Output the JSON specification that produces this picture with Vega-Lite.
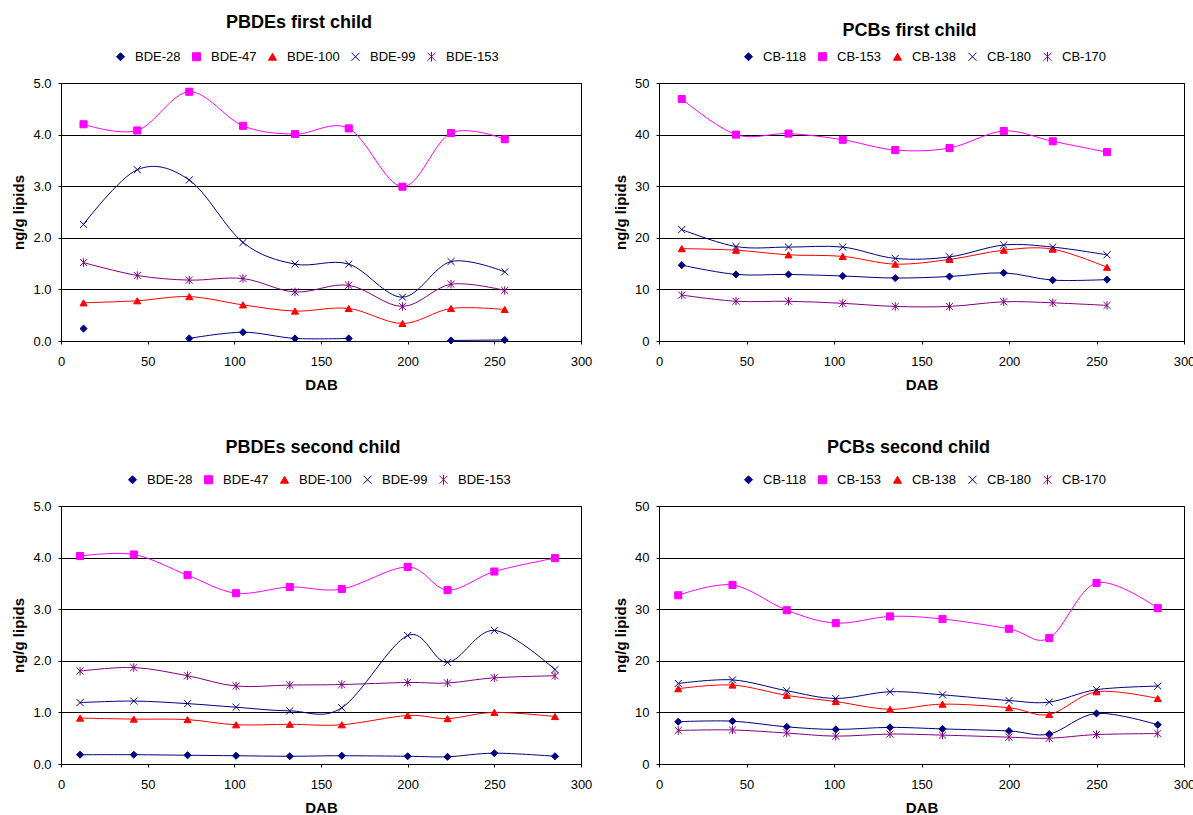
{
  "$schema": "https://vega.github.io/schema/vega-lite/v6.json",
  "background": "white",
  "padding": {"left": 11, "top": 13, "right": 5, "bottom": 0},
  "columns": 2,
  "spacing": {"row": 45, "column": 20},
  "resolve": {
    "scale": {"color": "independent", "fill": "independent", "stroke": "independent", "shape": "independent", "x": "independent", "y": "independent"},
    "legend": {"color": "independent", "fill": "independent", "stroke": "independent", "shape": "independent"}
  },
  "datasets": {
    "pbde1": [
      {"DAB": 13, "congener": "BDE-28", "value": 0.24}, {"DAB": 44, "congener": "BDE-28", "value": null}, {"DAB": 74, "congener": "BDE-28", "value": 0.05}, {"DAB": 105, "congener": "BDE-28", "value": 0.17}, {"DAB": 135, "congener": "BDE-28", "value": 0.05}, {"DAB": 166, "congener": "BDE-28", "value": 0.05}, {"DAB": 197, "congener": "BDE-28", "value": null}, {"DAB": 225, "congener": "BDE-28", "value": 0.01}, {"DAB": 256, "congener": "BDE-28", "value": 0.02},
      {"DAB": 13, "congener": "BDE-47", "value": 4.2}, {"DAB": 44, "congener": "BDE-47", "value": 4.08}, {"DAB": 74, "congener": "BDE-47", "value": 4.83}, {"DAB": 105, "congener": "BDE-47", "value": 4.17}, {"DAB": 135, "congener": "BDE-47", "value": 4.01}, {"DAB": 166, "congener": "BDE-47", "value": 4.12}, {"DAB": 197, "congener": "BDE-47", "value": 2.99}, {"DAB": 225, "congener": "BDE-47", "value": 4.03}, {"DAB": 256, "congener": "BDE-47", "value": 3.91},
      {"DAB": 13, "congener": "BDE-100", "value": 0.74}, {"DAB": 44, "congener": "BDE-100", "value": 0.78}, {"DAB": 74, "congener": "BDE-100", "value": 0.86}, {"DAB": 105, "congener": "BDE-100", "value": 0.7}, {"DAB": 135, "congener": "BDE-100", "value": 0.58}, {"DAB": 166, "congener": "BDE-100", "value": 0.63}, {"DAB": 197, "congener": "BDE-100", "value": 0.34}, {"DAB": 225, "congener": "BDE-100", "value": 0.63}, {"DAB": 256, "congener": "BDE-100", "value": 0.61},
      {"DAB": 13, "congener": "BDE-99", "value": 2.26}, {"DAB": 44, "congener": "BDE-99", "value": 3.32}, {"DAB": 74, "congener": "BDE-99", "value": 3.12}, {"DAB": 105, "congener": "BDE-99", "value": 1.91}, {"DAB": 135, "congener": "BDE-99", "value": 1.49}, {"DAB": 166, "congener": "BDE-99", "value": 1.49}, {"DAB": 197, "congener": "BDE-99", "value": 0.85}, {"DAB": 225, "congener": "BDE-99", "value": 1.54}, {"DAB": 256, "congener": "BDE-99", "value": 1.34},
      {"DAB": 13, "congener": "BDE-153", "value": 1.52}, {"DAB": 44, "congener": "BDE-153", "value": 1.27}, {"DAB": 74, "congener": "BDE-153", "value": 1.18}, {"DAB": 105, "congener": "BDE-153", "value": 1.21}, {"DAB": 135, "congener": "BDE-153", "value": 0.95}, {"DAB": 166, "congener": "BDE-153", "value": 1.08}, {"DAB": 197, "congener": "BDE-153", "value": 0.67}, {"DAB": 225, "congener": "BDE-153", "value": 1.1}, {"DAB": 256, "congener": "BDE-153", "value": 0.98}
    ],
    "pcb1": [
      {"DAB": 13, "congener": "CB-118", "value": 14.7}, {"DAB": 44, "congener": "CB-118", "value": 12.9}, {"DAB": 74, "congener": "CB-118", "value": 12.9}, {"DAB": 105, "congener": "CB-118", "value": 12.6}, {"DAB": 135, "congener": "CB-118", "value": 12.2}, {"DAB": 166, "congener": "CB-118", "value": 12.5}, {"DAB": 197, "congener": "CB-118", "value": 13.2}, {"DAB": 225, "congener": "CB-118", "value": 11.8}, {"DAB": 256, "congener": "CB-118", "value": 11.9},
      {"DAB": 13, "congener": "CB-153", "value": 46.9}, {"DAB": 44, "congener": "CB-153", "value": 40.0}, {"DAB": 74, "congener": "CB-153", "value": 40.2}, {"DAB": 105, "congener": "CB-153", "value": 39.0}, {"DAB": 135, "congener": "CB-153", "value": 37.0}, {"DAB": 166, "congener": "CB-153", "value": 37.4}, {"DAB": 197, "congener": "CB-153", "value": 40.7}, {"DAB": 225, "congener": "CB-153", "value": 38.7}, {"DAB": 256, "congener": "CB-153", "value": 36.6},
      {"DAB": 13, "congener": "CB-138", "value": 17.9}, {"DAB": 44, "congener": "CB-138", "value": 17.6}, {"DAB": 74, "congener": "CB-138", "value": 16.7}, {"DAB": 105, "congener": "CB-138", "value": 16.4}, {"DAB": 135, "congener": "CB-138", "value": 14.9}, {"DAB": 166, "congener": "CB-138", "value": 15.8}, {"DAB": 197, "congener": "CB-138", "value": 17.6}, {"DAB": 225, "congener": "CB-138", "value": 17.8}, {"DAB": 256, "congener": "CB-138", "value": 14.3},
      {"DAB": 13, "congener": "CB-180", "value": 21.6}, {"DAB": 44, "congener": "CB-180", "value": 18.3}, {"DAB": 74, "congener": "CB-180", "value": 18.2}, {"DAB": 105, "congener": "CB-180", "value": 18.2}, {"DAB": 135, "congener": "CB-180", "value": 16.0}, {"DAB": 166, "congener": "CB-180", "value": 16.3}, {"DAB": 197, "congener": "CB-180", "value": 18.6}, {"DAB": 225, "congener": "CB-180", "value": 18.2}, {"DAB": 256, "congener": "CB-180", "value": 16.7},
      {"DAB": 13, "congener": "CB-170", "value": 8.9}, {"DAB": 44, "congener": "CB-170", "value": 7.7}, {"DAB": 74, "congener": "CB-170", "value": 7.7}, {"DAB": 105, "congener": "CB-170", "value": 7.3}, {"DAB": 135, "congener": "CB-170", "value": 6.7}, {"DAB": 166, "congener": "CB-170", "value": 6.7}, {"DAB": 197, "congener": "CB-170", "value": 7.6}, {"DAB": 225, "congener": "CB-170", "value": 7.4}, {"DAB": 256, "congener": "CB-170", "value": 6.9}
    ],
    "pbde2": [
      {"DAB": 11, "congener": "BDE-28", "value": 0.18}, {"DAB": 42, "congener": "BDE-28", "value": 0.18}, {"DAB": 73, "congener": "BDE-28", "value": 0.17}, {"DAB": 101, "congener": "BDE-28", "value": 0.16}, {"DAB": 132, "congener": "BDE-28", "value": 0.15}, {"DAB": 162, "congener": "BDE-28", "value": 0.16}, {"DAB": 200, "congener": "BDE-28", "value": 0.15}, {"DAB": 223, "congener": "BDE-28", "value": 0.14}, {"DAB": 250, "congener": "BDE-28", "value": 0.21}, {"DAB": 285, "congener": "BDE-28", "value": 0.15},
      {"DAB": 11, "congener": "BDE-47", "value": 4.03}, {"DAB": 42, "congener": "BDE-47", "value": 4.06}, {"DAB": 73, "congener": "BDE-47", "value": 3.66}, {"DAB": 101, "congener": "BDE-47", "value": 3.31}, {"DAB": 132, "congener": "BDE-47", "value": 3.43}, {"DAB": 162, "congener": "BDE-47", "value": 3.39}, {"DAB": 200, "congener": "BDE-47", "value": 3.82}, {"DAB": 223, "congener": "BDE-47", "value": 3.37}, {"DAB": 250, "congener": "BDE-47", "value": 3.73}, {"DAB": 285, "congener": "BDE-47", "value": 3.99},
      {"DAB": 11, "congener": "BDE-100", "value": 0.89}, {"DAB": 42, "congener": "BDE-100", "value": 0.87}, {"DAB": 73, "congener": "BDE-100", "value": 0.86}, {"DAB": 101, "congener": "BDE-100", "value": 0.76}, {"DAB": 132, "congener": "BDE-100", "value": 0.77}, {"DAB": 162, "congener": "BDE-100", "value": 0.76}, {"DAB": 200, "congener": "BDE-100", "value": 0.94}, {"DAB": 223, "congener": "BDE-100", "value": 0.88}, {"DAB": 250, "congener": "BDE-100", "value": 1.0}, {"DAB": 285, "congener": "BDE-100", "value": 0.92},
      {"DAB": 11, "congener": "BDE-99", "value": 1.19}, {"DAB": 42, "congener": "BDE-99", "value": 1.22}, {"DAB": 73, "congener": "BDE-99", "value": 1.17}, {"DAB": 101, "congener": "BDE-99", "value": 1.1}, {"DAB": 132, "congener": "BDE-99", "value": 1.03}, {"DAB": 162, "congener": "BDE-99", "value": 1.09}, {"DAB": 200, "congener": "BDE-99", "value": 2.49}, {"DAB": 223, "congener": "BDE-99", "value": 1.97}, {"DAB": 250, "congener": "BDE-99", "value": 2.59}, {"DAB": 285, "congener": "BDE-99", "value": 1.83},
      {"DAB": 11, "congener": "BDE-153", "value": 1.8}, {"DAB": 42, "congener": "BDE-153", "value": 1.87}, {"DAB": 73, "congener": "BDE-153", "value": 1.71}, {"DAB": 101, "congener": "BDE-153", "value": 1.51}, {"DAB": 132, "congener": "BDE-153", "value": 1.53}, {"DAB": 162, "congener": "BDE-153", "value": 1.54}, {"DAB": 200, "congener": "BDE-153", "value": 1.58}, {"DAB": 223, "congener": "BDE-153", "value": 1.57}, {"DAB": 250, "congener": "BDE-153", "value": 1.67}, {"DAB": 285, "congener": "BDE-153", "value": 1.71}
    ],
    "pcb2": [
      {"DAB": 11, "congener": "CB-118", "value": 8.2}, {"DAB": 42, "congener": "CB-118", "value": 8.3}, {"DAB": 73, "congener": "CB-118", "value": 7.2}, {"DAB": 101, "congener": "CB-118", "value": 6.7}, {"DAB": 132, "congener": "CB-118", "value": 7.1}, {"DAB": 162, "congener": "CB-118", "value": 6.8}, {"DAB": 200, "congener": "CB-118", "value": 6.4}, {"DAB": 223, "congener": "CB-118", "value": 5.8}, {"DAB": 250, "congener": "CB-118", "value": 9.8}, {"DAB": 285, "congener": "CB-118", "value": 7.6},
      {"DAB": 11, "congener": "CB-153", "value": 32.7}, {"DAB": 42, "congener": "CB-153", "value": 34.7}, {"DAB": 73, "congener": "CB-153", "value": 29.8}, {"DAB": 101, "congener": "CB-153", "value": 27.3}, {"DAB": 132, "congener": "CB-153", "value": 28.6}, {"DAB": 162, "congener": "CB-153", "value": 28.1}, {"DAB": 200, "congener": "CB-153", "value": 26.2}, {"DAB": 223, "congener": "CB-153", "value": 24.4}, {"DAB": 250, "congener": "CB-153", "value": 35.1}, {"DAB": 285, "congener": "CB-153", "value": 30.2},
      {"DAB": 11, "congener": "CB-138", "value": 14.6}, {"DAB": 42, "congener": "CB-138", "value": 15.3}, {"DAB": 73, "congener": "CB-138", "value": 13.3}, {"DAB": 101, "congener": "CB-138", "value": 12.1}, {"DAB": 132, "congener": "CB-138", "value": 10.6}, {"DAB": 162, "congener": "CB-138", "value": 11.6}, {"DAB": 200, "congener": "CB-138", "value": 10.9}, {"DAB": 223, "congener": "CB-138", "value": 9.6}, {"DAB": 250, "congener": "CB-138", "value": 14.0}, {"DAB": 285, "congener": "CB-138", "value": 12.7},
      {"DAB": 11, "congener": "CB-180", "value": 15.6}, {"DAB": 42, "congener": "CB-180", "value": 16.3}, {"DAB": 73, "congener": "CB-180", "value": 14.2}, {"DAB": 101, "congener": "CB-180", "value": 12.7}, {"DAB": 132, "congener": "CB-180", "value": 14.0}, {"DAB": 162, "congener": "CB-180", "value": 13.4}, {"DAB": 200, "congener": "CB-180", "value": 12.3}, {"DAB": 223, "congener": "CB-180", "value": 12.0}, {"DAB": 250, "congener": "CB-180", "value": 14.4}, {"DAB": 285, "congener": "CB-180", "value": 15.1},
      {"DAB": 11, "congener": "CB-170", "value": 6.5}, {"DAB": 42, "congener": "CB-170", "value": 6.6}, {"DAB": 73, "congener": "CB-170", "value": 6.0}, {"DAB": 101, "congener": "CB-170", "value": 5.4}, {"DAB": 132, "congener": "CB-170", "value": 5.8}, {"DAB": 162, "congener": "CB-170", "value": 5.6}, {"DAB": 200, "congener": "CB-170", "value": 5.2}, {"DAB": 223, "congener": "CB-170", "value": 5.0}, {"DAB": 250, "congener": "CB-170", "value": 5.7}, {"DAB": 285, "congener": "CB-170", "value": 5.9}
    ]
  },
  "concat": [
    {
      "width": 520, "height": 258,
      "title": {"text": "PBDEs first child", "offset": 18, "dx": -22},
      "data": {"name": "pbde1"},
      "encoding": {
        "x": {"field": "DAB", "type": "quantitative", "title": "DAB", "scale": {"domain": [0, 300], "nice": false}, "axis": {"values": [0, 50, 100, 150, 200, 250, 300]}},
        "y": {"field": "value", "type": "quantitative", "title": "ng/g lipids", "scale": {"domain": [0, 5], "nice": false}, "axis": {"values": [0, 1, 2, 3, 4, 5], "format": ".1f"}}
      },
      "layer": [
        {"mark": {"type": "line", "interpolate": "cardinal", "strokeWidth": 1, "invalid": "break-paths-filter-domains"},
         "encoding": {"color": {"field": "congener", "type": "nominal", "scale": {"domain": ["BDE-153", "BDE-99", "BDE-100", "BDE-47", "BDE-28"], "range": ["#800080", "#000080", "#FF0000", "#FF00FF", "#000080"]}, "legend": null}}},
        {"mark": {"type": "point", "filled": true, "size": 50, "strokeWidth": 1, "opacity": 1, "invalid": "break-paths-filter-domains"},
         "encoding": {
           "fill": {"field": "congener", "type": "nominal", "scale": {"domain": ["BDE-28", "BDE-47", "BDE-100", "BDE-99", "BDE-153"], "range": ["#000080", "#FF00FF", "#FF0000", "#000080", "#800080"]}, "legend": {"title": null, "orient": "none", "legendX": 53, "legendY": -33, "direction": "horizontal"}},
           "stroke": {"field": "congener", "type": "nominal", "scale": {"domain": ["BDE-28", "BDE-47", "BDE-100", "BDE-99", "BDE-153"], "range": ["#000080", "#FF00FF", "#FF0000", "#000080", "#800080"]}, "legend": {"title": null, "orient": "none", "legendX": 53, "legendY": -33, "direction": "horizontal"}},
           "shape": {"field": "congener", "type": "nominal", "scale": {"domain": ["BDE-28", "BDE-47", "BDE-100", "BDE-99", "BDE-153"], "range": ["diamond", "square", "triangle-up", "M-1,-1L1,1M-1,1L1,-1", "M-1,-1L1,1M-1,1L1,-1M0,-1.2V1.2"]}, "legend": {"title": null, "orient": "none", "legendX": 53, "legendY": -33, "direction": "horizontal"}}
         }}
      ]
    },
    {
      "width": 525, "height": 258,
      "title": {"text": "PCBs first child", "offset": 10, "dx": -12},
      "data": {"name": "pcb1"},
      "encoding": {
        "x": {"field": "DAB", "type": "quantitative", "title": "DAB", "scale": {"domain": [0, 300], "nice": false}, "axis": {"values": [0, 50, 100, 150, 200, 250, 300]}},
        "y": {"field": "value", "type": "quantitative", "title": "ng/g lipids", "scale": {"domain": [0, 50], "nice": false}, "axis": {"values": [0, 10, 20, 30, 40, 50], "format": "d"}}
      },
      "layer": [
        {"mark": {"type": "line", "interpolate": "cardinal", "strokeWidth": 1},
         "encoding": {"color": {"field": "congener", "type": "nominal", "scale": {"domain": ["CB-170", "CB-180", "CB-138", "CB-153", "CB-118"], "range": ["#800080", "#000080", "#FF0000", "#FF00FF", "#000080"]}, "legend": null}}},
        {"mark": {"type": "point", "filled": true, "size": 50, "strokeWidth": 1, "opacity": 1},
         "encoding": {
           "fill": {"field": "congener", "type": "nominal", "scale": {"domain": ["CB-118", "CB-153", "CB-138", "CB-180", "CB-170"], "range": ["#000080", "#FF00FF", "#FF0000", "#000080", "#800080"]}, "legend": {"title": null, "orient": "none", "legendX": 83, "legendY": -33, "direction": "horizontal"}},
           "stroke": {"field": "congener", "type": "nominal", "scale": {"domain": ["CB-118", "CB-153", "CB-138", "CB-180", "CB-170"], "range": ["#000080", "#FF00FF", "#FF0000", "#000080", "#800080"]}, "legend": {"title": null, "orient": "none", "legendX": 83, "legendY": -33, "direction": "horizontal"}},
           "shape": {"field": "congener", "type": "nominal", "scale": {"domain": ["CB-118", "CB-153", "CB-138", "CB-180", "CB-170"], "range": ["diamond", "square", "triangle-up", "M-1,-1L1,1M-1,1L1,-1", "M-1,-1L1,1M-1,1L1,-1M0,-1.2V1.2"]}, "legend": {"title": null, "orient": "none", "legendX": 83, "legendY": -33, "direction": "horizontal"}}
         }}
      ]
    },
    {
      "width": 520, "height": 258,
      "title": {"text": "PBDEs second child", "offset": 16, "dx": -8},
      "data": {"name": "pbde2"},
      "encoding": {
        "x": {"field": "DAB", "type": "quantitative", "title": "DAB", "scale": {"domain": [0, 300], "nice": false}, "axis": {"values": [0, 50, 100, 150, 200, 250, 300]}},
        "y": {"field": "value", "type": "quantitative", "title": "ng/g lipids", "scale": {"domain": [0, 5], "nice": false}, "axis": {"values": [0, 1, 2, 3, 4, 5], "format": ".1f"}}
      },
      "layer": [
        {"mark": {"type": "line", "interpolate": "cardinal", "strokeWidth": 1},
         "encoding": {"color": {"field": "congener", "type": "nominal", "scale": {"domain": ["BDE-153", "BDE-99", "BDE-100", "BDE-47", "BDE-28"], "range": ["#800080", "#000080", "#FF0000", "#FF00FF", "#000080"]}, "legend": null}}},
        {"mark": {"type": "point", "filled": true, "size": 50, "strokeWidth": 1, "opacity": 1},
         "encoding": {
           "fill": {"field": "congener", "type": "nominal", "scale": {"domain": ["BDE-28", "BDE-47", "BDE-100", "BDE-99", "BDE-153"], "range": ["#000080", "#FF00FF", "#FF0000", "#000080", "#800080"]}, "legend": {"title": null, "orient": "none", "legendX": 65, "legendY": -33, "direction": "horizontal"}},
           "stroke": {"field": "congener", "type": "nominal", "scale": {"domain": ["BDE-28", "BDE-47", "BDE-100", "BDE-99", "BDE-153"], "range": ["#000080", "#FF00FF", "#FF0000", "#000080", "#800080"]}, "legend": {"title": null, "orient": "none", "legendX": 65, "legendY": -33, "direction": "horizontal"}},
           "shape": {"field": "congener", "type": "nominal", "scale": {"domain": ["BDE-28", "BDE-47", "BDE-100", "BDE-99", "BDE-153"], "range": ["diamond", "square", "triangle-up", "M-1,-1L1,1M-1,1L1,-1", "M-1,-1L1,1M-1,1L1,-1M0,-1.2V1.2"]}, "legend": {"title": null, "orient": "none", "legendX": 65, "legendY": -33, "direction": "horizontal"}}
         }}
      ]
    },
    {
      "width": 525, "height": 258,
      "title": {"text": "PCBs second child", "offset": 16, "dx": -13},
      "data": {"name": "pcb2"},
      "encoding": {
        "x": {"field": "DAB", "type": "quantitative", "title": "DAB", "scale": {"domain": [0, 300], "nice": false}, "axis": {"values": [0, 50, 100, 150, 200, 250, 300]}},
        "y": {"field": "value", "type": "quantitative", "title": "ng/g lipids", "scale": {"domain": [0, 50], "nice": false}, "axis": {"values": [0, 10, 20, 30, 40, 50], "format": "d"}}
      },
      "layer": [
        {"mark": {"type": "line", "interpolate": "cardinal", "strokeWidth": 1},
         "encoding": {"color": {"field": "congener", "type": "nominal", "scale": {"domain": ["CB-170", "CB-180", "CB-138", "CB-153", "CB-118"], "range": ["#800080", "#000080", "#FF0000", "#FF00FF", "#000080"]}, "legend": null}}},
        {"mark": {"type": "point", "filled": true, "size": 50, "strokeWidth": 1, "opacity": 1},
         "encoding": {
           "fill": {"field": "congener", "type": "nominal", "scale": {"domain": ["CB-118", "CB-153", "CB-138", "CB-180", "CB-170"], "range": ["#000080", "#FF00FF", "#FF0000", "#000080", "#800080"]}, "legend": {"title": null, "orient": "none", "legendX": 83, "legendY": -33, "direction": "horizontal"}},
           "stroke": {"field": "congener", "type": "nominal", "scale": {"domain": ["CB-118", "CB-153", "CB-138", "CB-180", "CB-170"], "range": ["#000080", "#FF00FF", "#FF0000", "#000080", "#800080"]}, "legend": {"title": null, "orient": "none", "legendX": 83, "legendY": -33, "direction": "horizontal"}},
           "shape": {"field": "congener", "type": "nominal", "scale": {"domain": ["CB-118", "CB-153", "CB-138", "CB-180", "CB-170"], "range": ["diamond", "square", "triangle-up", "M-1,-1L1,1M-1,1L1,-1", "M-1,-1L1,1M-1,1L1,-1M0,-1.2V1.2"]}, "legend": {"title": null, "orient": "none", "legendX": 83, "legendY": -33, "direction": "horizontal"}}
         }}
      ]
    }
  ],
  "config": {
    "font": "Liberation Sans",
    "view": {"stroke": "#000000", "strokeWidth": 1},
    "axis": {"labelFont": "Liberation Sans", "labelFontSize": 13, "labelColor": "#000000", "titleFont": "Liberation Sans", "titleFontSize": 15, "titleFontWeight": "bold", "titleColor": "#000000", "domainColor": "#000000", "tickColor": "#000000", "tickSize": 3, "gridColor": "#000000", "gridOpacity": 1, "labelFlush": false, "labelOverlap": false},
    "axisX": {"grid": false, "labelPadding": 11, "titlePadding": 9},
    "axisY": {"grid": true, "labelPadding": 7, "titlePadding": 6},
    "legend": {"labelFont": "Liberation Sans", "labelFontSize": 13, "labelColor": "#000000", "symbolSize": 64, "symbolStrokeWidth": 1, "labelOffset": 8, "columnPadding": 9, "padding": 0, "labelLimit": 200},
    "title": {"font": "Liberation Sans", "fontSize": 18, "fontWeight": "bold", "color": "#000000", "anchor": "middle"}
  }
}
